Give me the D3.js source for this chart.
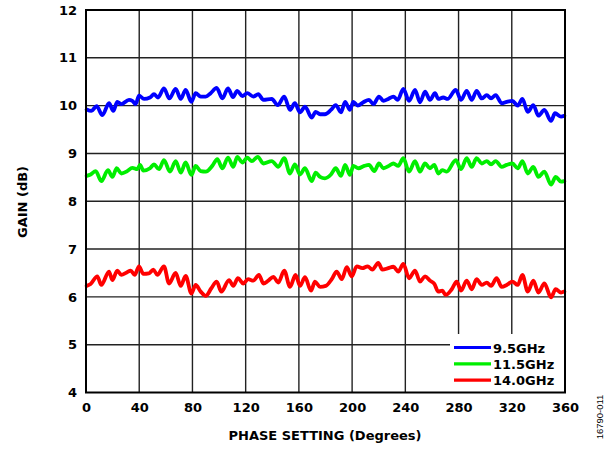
<!DOCTYPE html>
<html>
<head>
<meta charset="utf-8">
<script src="https://cdn.jsdelivr.net/npm/d3@7"></script>
<style>
  body { margin: 0; background: #fff; }
  svg text { font-family: "DejaVu Sans", Arial, sans-serif; }
</style>
</head>
<body>
<svg id="chart" width="610" height="451"></svg>
<script>
// Phase (degrees) and gain (dB), one pair of arrays per frequency
const phase95 = [0.5, 4, 8, 12.3, 17.3, 20.5, 23.5, 26.5, 32.3, 34.8, 37.3, 39.8, 43.6, 48.1, 51.1, 54.1, 58.6, 62.6, 67.4, 71.2, 74.9, 79.2, 82.4, 86.2, 90, 93.7, 98.2, 102.5, 106.7, 110.5, 113.7, 117.5, 121.2,
  125.8, 129.5, 133.3, 139.6, 144.1, 149, 153.3, 157, 160.8, 164.6, 169.6, 172.6, 175.9, 179.6, 184.1, 187.7, 191.7, 194.7, 198.4, 200.9, 204.2, 208.4, 212.7, 216, 220.2, 223.5, 227.2, 231, 234.3, 238.5,
  242.8, 247.3, 251, 254.8, 258.5, 262.3, 264.8, 268.5, 271.8, 277.9, 281.9, 286.1, 289.9, 293.6, 297.4, 301.2, 304.4, 307.9, 312.4, 316.2, 320.4, 324.5, 328, 332, 336.2, 340, 344.5, 349.5, 352.5, 357, 359.5];
const gain95 = [9.92, 9.89, 9.99, 9.80, 10.05, 9.89, 10.08, 10.03, 10.12, 10.10, 10.03, 10.21, 10.14, 10.17, 10.24, 10.17, 10.36, 10.15, 10.35, 10.14, 10.33, 10.08, 10.26, 10.19, 10.19, 10.26, 10.37, 10.15, 10.36, 10.18, 10.31, 10.20, 10.26,
  10.19, 10.24, 10.12, 10.14, 10.01, 10.19, 9.91, 10.05, 9.86, 9.98, 9.75, 9.87, 9.82, 9.82, 9.91, 10.01, 9.86, 10.08, 9.91, 10.08, 10.00, 10.07, 10.12, 10.03, 10.19, 10.10, 10.14, 10.19, 10.12, 10.35,
  10.10, 10.33, 10.07, 10.29, 10.12, 10.26, 10.14, 10.17, 10.14, 10.33, 10.12, 10.31, 10.12, 10.31, 10.15, 10.22, 10.15, 10.22, 10.05, 10.08, 10.10, 10.00, 10.14, 9.87, 10.01, 9.79, 9.91, 9.68, 9.84, 9.77, 9.79];

const phase115 = [0.5, 3.5, 7.3, 11.5, 16.5, 19.8, 23.1, 26.5, 31, 34.8, 38.6, 40.6, 43.1, 48.1, 51.1, 54.9, 58.6, 63.1, 67.4, 71.2, 74.9, 79.2, 82.4, 86.2, 90, 94.9, 98.7, 102.5, 106.7, 110.7, 113.7, 117.5, 121.2,
  124.6, 129.1, 133.3, 139.6, 144.5, 149, 153.3, 157, 160.8, 164.6, 169.6, 172.6, 175.9, 179.6, 184.1, 187.7, 191.7, 194.7, 198.4, 200.9, 204.7, 209.2, 212.7, 216.7, 220.2, 223.5, 227.7, 231, 234.7, 238.5,
  242.8, 247.3, 251, 254.8, 258.5, 261.8, 264.8, 267.8, 271.1, 277.9, 281.9, 286.1, 289.9, 293.6, 297.4, 301.2, 304.4, 307.9, 312.4, 316.2, 320.4, 324.5, 328, 332, 336.2, 340, 344.5, 349.5, 353, 357, 359.5];
const gain115 = [8.53, 8.56, 8.63, 8.42, 8.65, 8.51, 8.69, 8.58, 8.63, 8.70, 8.67, 8.76, 8.64, 8.69, 8.77, 8.67, 8.86, 8.62, 8.84, 8.60, 8.81, 8.55, 8.74, 8.63, 8.62, 8.74, 8.88, 8.69, 8.91, 8.72, 8.93, 8.81, 8.91,
  8.84, 8.93, 8.79, 8.84, 8.72, 8.90, 8.58, 8.77, 8.56, 8.69, 8.42, 8.60, 8.51, 8.48, 8.56, 8.69, 8.53, 8.76, 8.55, 8.74, 8.69, 8.74, 8.76, 8.63, 8.79, 8.69, 8.74, 8.79, 8.74, 8.90,
  8.62, 8.84, 8.62, 8.79, 8.69, 8.76, 8.58, 8.65, 8.62, 8.86, 8.67, 8.90, 8.72, 8.90, 8.79, 8.84, 8.77, 8.84, 8.72, 8.76, 8.79, 8.69, 8.84, 8.58, 8.72, 8.51, 8.62, 8.35, 8.51, 8.41, 8.42];

const phase140 = [0.5, 3.5, 8.5, 11.5, 17.3, 19.8, 23.5, 26.5, 30.6, 33.6, 36.6, 39.8, 43.1, 47.3, 50.6, 53.6, 58.6, 62.4, 67.4, 71.2, 74.9, 79.2, 82.4, 86.2, 90, 94.2, 98.2, 101.7, 107.5, 110.7, 114.2, 118.2, 121.8,
  125.8, 130, 133.3, 137, 140.8, 144.5, 149, 153.3, 157.5, 160.8, 164.6, 169.1, 172.1, 175.9, 180.2, 184.7, 188.4, 192.2, 196, 199.7, 203.5, 207.7, 211.7, 215.2, 219.7, 222.7, 227.2, 231, 234.7, 238.5,
  242.8, 247.3, 251, 254.8, 258.5, 261.8, 264.8, 267.8, 270.3, 274.9, 278.6, 281.9, 286.1, 289.9, 293.6, 297.4, 301.2, 304.4, 308.6, 312.4, 316.2, 320.4, 324.5, 328, 332, 336.2, 340, 344.5, 349.5, 353, 357, 359.5];
const gain140 = [6.23, 6.27, 6.43, 6.25, 6.53, 6.35, 6.55, 6.46, 6.51, 6.55, 6.46, 6.64, 6.48, 6.49, 6.57, 6.46, 6.64, 6.28, 6.50, 6.23, 6.44, 6.07, 6.25, 6.11, 6.02, 6.18, 6.32, 6.11, 6.35, 6.23, 6.39, 6.28, 6.37,
  6.34, 6.46, 6.28, 6.34, 6.42, 6.30, 6.55, 6.21, 6.46, 6.23, 6.41, 6.13, 6.32, 6.21, 6.23, 6.37, 6.53, 6.37, 6.62, 6.43, 6.64, 6.60, 6.64, 6.57, 6.71, 6.57, 6.60, 6.63, 6.53, 6.69,
  6.39, 6.55, 6.32, 6.43, 6.34, 6.27, 6.11, 6.13, 6.04, 6.16, 6.32, 6.13, 6.34, 6.16, 6.37, 6.25, 6.30, 6.23, 6.39, 6.21, 6.25, 6.32, 6.25, 6.46, 6.11, 6.34, 6.09, 6.28, 5.99, 6.16, 6.09, 6.11];

const seriesNames = ["9.5GHz", "11.5GHz", "14.0GHz"];
const seriesColors = ["#0000ff", "#00ee00", "#ff0000"];
const xTicks = [0, 40, 80, 120, 160, 200, 240, 280, 320, 360];
const yTicks = [4, 5, 6, 7, 8, 9, 10, 11, 12];

const series = [
  { name: seriesNames[0], color: seriesColors[0], x: phase95, y: gain95 },
  { name: seriesNames[1], color: seriesColors[1], x: phase115, y: gain115 },
  { name: seriesNames[2], color: seriesColors[2], x: phase140, y: gain140 }
];

const svg = d3.select("#chart");
const plot = { left: 86, right: 565, top: 10, bottom: 392.5 };
const labelFont = "'DejaVu Sans', Arial, sans-serif";

const x = d3.scaleLinear().domain([0, 360]).range([plot.left, plot.right]);
const y = d3.scaleLinear().domain([4, 12]).range([plot.bottom, plot.top]);

// grid
svg.append("g").selectAll("line").data(xTicks.slice(1, -1)).enter().append("line")
  .attr("x1", d => x(d)).attr("x2", d => x(d)).attr("y1", plot.top).attr("y2", plot.bottom)
  .attr("stroke", "#222").attr("stroke-width", 1.4);
svg.append("g").selectAll("line").data(yTicks.slice(1, -1)).enter().append("line")
  .attr("x1", plot.left).attr("x2", plot.right).attr("y1", d => y(d)).attr("y2", d => y(d))
  .attr("stroke", "#222").attr("stroke-width", 1.4);

// curves
const line = d3.line().curve(d3.curveMonotoneX);
series.forEach(s => {
  const pts = s.x.map((p, i) => [x(p), y(s.y[i])]);
  svg.append("path")
    .attr("d", line(pts))
    .attr("fill", "none")
    .attr("stroke", s.color)
    .attr("stroke-width", 3.8)
    .attr("stroke-linejoin", "round")
    .attr("stroke-linecap", "round");
});

// legend box (white, hides grid)
const legX = 450, legY = 334;
svg.append("rect").attr("x", legX).attr("y", legY)
  .attr("width", plot.right - legX).attr("height", plot.bottom - legY)
  .attr("fill", "#fff");
series.forEach((s, i) => {
  const ly = 347.5 + i * 16.3;
  svg.append("line").attr("x1", 454).attr("x2", 491).attr("y1", ly).attr("y2", ly)
    .attr("stroke", s.color).attr("stroke-width", 3.2);
  svg.append("text").attr("x", 493).attr("y", ly + 5)
    .attr("font-size", 13).attr("font-weight", "bold").attr("fill", "#000")
    .text(s.name);
});

// frame
svg.append("rect").attr("x", plot.left).attr("y", plot.top)
  .attr("width", plot.right - plot.left).attr("height", plot.bottom - plot.top)
  .attr("fill", "none").attr("stroke", "#000").attr("stroke-width", 2);

// axes labels
const xAxis = d3.axisBottom(x).tickValues(xTicks).tickSize(0).tickPadding(10);
const gx = svg.append("g").attr("transform", `translate(0,${plot.bottom})`).call(xAxis);
gx.select(".domain").remove();
gx.selectAll("text").attr("font-size", 13).attr("font-weight", "bold").attr("fill", "#000")
  .style("font-family", labelFont);

const yAxis = d3.axisLeft(y).tickValues(yTicks).tickSize(0).tickPadding(9);
const gy = svg.append("g").attr("transform", `translate(${plot.left},0)`).call(yAxis);
gy.select(".domain").remove();
gy.selectAll("text").attr("font-size", 13).attr("font-weight", "bold").attr("fill", "#000")
  .style("font-family", labelFont);

svg.append("text").attr("x", 325).attr("y", 440)
  .attr("text-anchor", "middle").attr("font-size", 13).attr("font-weight", "bold")
  .text("PHASE SETTING (Degrees)");

svg.append("text").attr("transform", `translate(27,202) rotate(-90)`)
  .attr("text-anchor", "middle").attr("font-size", 13).attr("font-weight", "bold")
  .text("GAIN (dB)");

svg.append("text").attr("transform", "translate(603,417) rotate(-90)")
  .attr("text-anchor", "middle").attr("font-size", 9.5)
  .style("font-family", "'Liberation Sans', Arial, sans-serif")
  .text("16790-011");
</script>
</body>
</html>
